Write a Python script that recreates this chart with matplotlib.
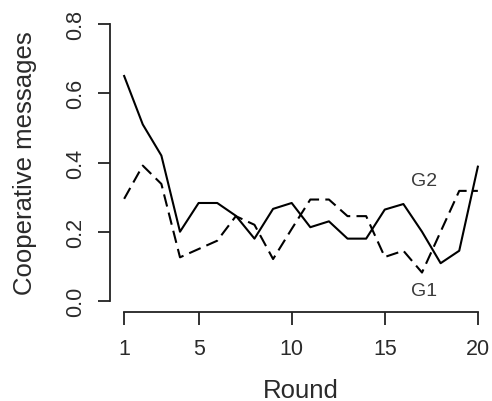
import numpy as np
import matplotlib
matplotlib.use('Agg')
import matplotlib.pyplot as plt

plt.rcParams['font.family'] = ['Liberation Sans', 'DejaVu Sans']

# values
rounds = np.arange(1, 21)
g2_solid = [0.65, 0.51, 0.42, 0.20, 0.283, 0.283, 0.246, 0.18, 0.266, 0.283,
            0.213, 0.23, 0.18, 0.18, 0.264, 0.28, 0.20, 0.109, 0.145, 0.388]
g1_dashed = [0.295, 0.391, 0.338, 0.126, 0.15, 0.174, 0.245, 0.22, 0.121, 0.208,
             0.293, 0.293, 0.245, 0.245, 0.127, 0.145, 0.082, 0.2, 0.318, 0.318]
xticks = [1, 5, 10, 15, 20]
yticks = [0.0, 0.2, 0.4, 0.6, 0.8]

fig = plt.figure(figsize=(4.92, 4.02), dpi=100)
ax = fig.add_axes([110/492, 89/402, 382/492, 299/402])

ax.plot(rounds, g2_solid, color='black', lw=1.5)
ax.plot(rounds, g1_dashed, color='black', lw=1.5, dashes=(6, 3))

ax.text(17.1, 0.347, 'G2', fontsize=14, color='#3a3a3a', ha='center', va='center')
ax.text(17.1, 0.03, 'G1', fontsize=14, color='#3a3a3a', ha='center', va='center')

ax.set_xlim(0.24, 20.76)
ax.set_ylim(-0.032, 0.832)

for s in ['top', 'right']:
    ax.spines[s].set_visible(False)
ax.spines['left'].set_bounds(0, 0.8)
ax.spines['bottom'].set_bounds(1, 20)
for s in ['left', 'bottom']:
    ax.spines[s].set_linewidth(1.3)
    ax.spines[s].set_color('#222222')

ax.set_xticks(xticks)
ax.set_yticks(yticks)
ax.set_yticklabels(['%.1f' % v for v in yticks], rotation=90, va='center')
ax.tick_params(axis='both', direction='out', length=9, width=1.3, color='#222222',
               labelsize=15.5, labelcolor='#2a2a2a')
ax.tick_params(axis='x', pad=10)
ax.tick_params(axis='y', pad=8)

ax.set_xlabel('Round', fontsize=18.5, color='#2a2a2a', va='center')
ax.xaxis.set_label_coords(0.5, -0.26)
ax.set_ylabel('Cooperative messages', fontsize=18.5, color='#2a2a2a', va='center')
ax.yaxis.set_label_coords(-0.222, 0.5)

fig.savefig('out.png', dpi=100)
